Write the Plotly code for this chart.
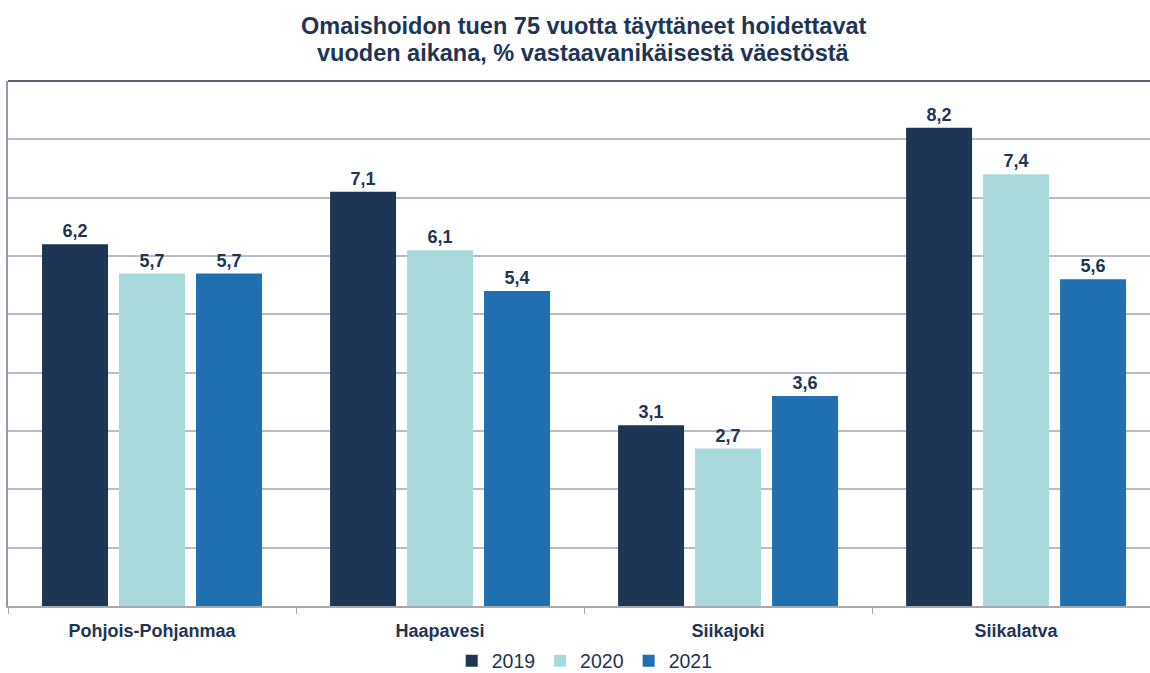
import plotly.graph_objects as go

categories = ["Pohjois-Pohjanmaa", "Haapavesi", "Siikajoki", "Siikalatva"]
years = ["2019", "2020", "2021"]
values_2019 = [6.2, 7.1, 3.1, 8.2]
values_2020 = [5.7, 6.1, 2.7, 7.4]
values_2021 = [5.7, 5.4, 3.6, 5.6]
colors = ["#1f3556", "#a8dadb", "#1f6fb1"]
title_lines = ["Omaishoidon tuen 75 vuotta täyttäneet hoidettavat",
               "vuoden aikana, % vastaavanikäisestä väestöstä"]

series = [values_2019, values_2020, values_2021]
navy = "#1f3556"
FONT = "Liberation Sans, Arial"

W, H = 1150, 673
ML, MR, MT, MB = 8, 0, 81, 67
PH = H - MT - MB

fig = go.Figure()
for name, vals, col in zip(years, series, colors):
    fig.add_trace(go.Bar(
        x=categories, y=vals, name=name, marker_color=col,
        marker_line_width=0,
        texttemplate="<b>%{y:.1f}</b>", textposition="outside",
        textfont=dict(family=FONT, size=18, color=navy),
        cliponaxis=False,
    ))

def ypx(px):
    return 1 + (MT - px) / PH

annotations = []
for line, yc in zip(title_lines, [26, 53]):
    annotations.append(dict(
        text=f"<b>{line}</b>", xref="paper", yref="paper",
        x=0.504, y=ypx(yc), xanchor="center", yanchor="middle",
        showarrow=False, font=dict(family=FONT, size=23.5, color=navy),
    ))

fig.update_layout(
    width=W, height=H,
    separators=", ",
    paper_bgcolor="white", plot_bgcolor="white",
    margin=dict(l=ML, r=MR, t=MT, b=MB, autoexpand=False),
    barmode="group", bargap=0.198, bargroupgap=0.143,
    annotations=annotations,
    legend=dict(
        orientation="h", x=0.505, xanchor="center", y=ypx(661), yanchor="middle",
        font=dict(family=FONT, size=19.5, color=navy),
        traceorder="normal", itemwidth=30,
    ),
    font=dict(family=FONT, color=navy),
)
fig.update_xaxes(
    range=[-0.5, 3.465],
    showline=True, linecolor="#a6a9ad", linewidth=1.5,
    ticks="outside", tickson="boundaries", ticklen=6, tickcolor="#a6a9ad",
    tickfont=dict(family=FONT, size=18, color=navy),
    ticktext=[f"<b>{c}</b>" for c in categories], tickvals=categories,
    ticklabelstandoff=8,
    showgrid=False,
)
fig.update_yaxes(
    range=[0, 9], dtick=1, showticklabels=False,
    showgrid=True, gridcolor="#b8bcc6", gridwidth=1.5,
    showline=True, linecolor="#8f9aaa", linewidth=2,
    zeroline=False,
)
fig.add_shape(type="line", xref="paper", yref="paper", x0=0, x1=1, y0=1, y1=1,
              line=dict(color="#56606e", width=2))

fig.write_html("out.html", config={"displayModeBar": False},
               post_script="document.body.style.margin='0';")
